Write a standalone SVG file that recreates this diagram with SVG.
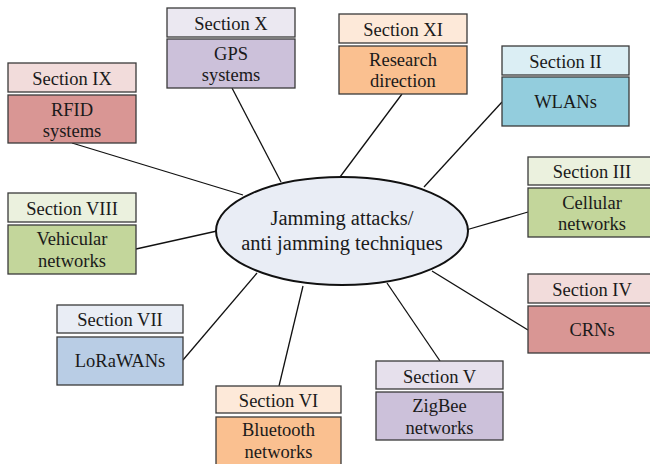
<svg xmlns="http://www.w3.org/2000/svg" width="650" height="464" viewBox="0 0 650 464" font-family="'Liberation Serif', 'Times New Roman', 'DejaVu Serif', serif">
<style>
text{font-family:'Liberation Serif','Times New Roman','DejaVu Serif',serif;font-size:18.5px;fill:#1a1a1a;text-anchor:middle}
.b{stroke:#3a3a3a;stroke-width:1.3}
.c line{stroke:#111;stroke-width:1.3}
.big{font-size:20.5px}
</style>
<rect width="650" height="464" fill="#fff"/>
<g class="c" id="connectors">
<line x1="72" y1="143" x2="243" y2="195"/>
<line x1="232" y1="88" x2="281" y2="182"/>
<line x1="402" y1="94" x2="340" y2="177"/>
<line x1="502" y1="102" x2="424" y2="187"/>
<line x1="466" y1="230" x2="528" y2="212"/>
<line x1="432" y1="271" x2="528" y2="330"/>
<line x1="387" y1="283" x2="440" y2="361"/>
<line x1="303" y1="286" x2="279" y2="386"/>
<line x1="257" y1="273" x2="183" y2="360"/>
<line x1="217" y1="231" x2="136" y2="249"/>
</g>
<g id="center">
<ellipse cx="342" cy="231" rx="126" ry="54" fill="#E9EDF5" stroke="#111" stroke-width="2"/>
<text class="big" x="342" y="225">Jamming attacks/</text>
<text class="big" x="342" y="250">anti jamming techniques</text>
</g>
<g id="sec-x">
<rect class="b" x="167" y="8" width="128" height="29" fill="#EBE8F1"/>
<text x="231" y="30">Section X</text>
<rect class="b" x="167" y="39" width="128" height="49" fill="#CCC1DA"/>
<text x="231" y="60">GPS</text>
<text x="231" y="81">systems</text>
</g>
<g id="sec-ix">
<rect class="b" x="8" y="63" width="128" height="29" fill="#F2DCDB"/>
<text x="72" y="85">Section IX</text>
<rect class="b" x="8" y="95" width="128" height="48" fill="#D99694"/>
<text x="72" y="116">RFID</text>
<text x="72" y="137">systems</text>
</g>
<g id="sec-xi">
<rect class="b" x="339" y="14" width="128" height="29" fill="#FDE9D9"/>
<text x="403" y="36">Section XI</text>
<rect class="b" x="339" y="46" width="128" height="48" fill="#FAC090"/>
<text x="403" y="66">Research</text>
<text x="403" y="87">direction</text>
</g>
<g id="sec-ii">
<rect class="b" x="502" y="46" width="127" height="29" fill="#DBEEF4"/>
<text x="565.5" y="68">Section II</text>
<rect class="b" x="502" y="77" width="127" height="49" fill="#93CDDD"/>
<text x="565.5" y="108">WLANs</text>
</g>
<g id="sec-iii">
<rect class="b" x="528" y="157" width="128" height="28" fill="#EBF1DE"/>
<text x="592" y="178">Section III</text>
<rect class="b" x="528" y="188" width="128" height="49" fill="#C3D69B"/>
<text x="592" y="209">Cellular</text>
<text x="592" y="230">networks</text>
</g>
<g id="sec-iv">
<rect class="b" x="528" y="274" width="128" height="29" fill="#F2DCDB"/>
<text x="592" y="296">Section IV</text>
<rect class="b" x="528" y="306" width="128" height="47" fill="#D99694"/>
<text x="592" y="336">CRNs</text>
</g>
<g id="sec-viii">
<rect class="b" x="8" y="193" width="128" height="29" fill="#EBF1DE"/>
<text x="72" y="215">Section VIII</text>
<rect class="b" x="8" y="225" width="128" height="49" fill="#C3D69B"/>
<text x="72" y="245">Vehicular</text>
<text x="72" y="267">networks</text>
</g>
<g id="sec-vii">
<rect class="b" x="57" y="305" width="126" height="28" fill="#E9EDF5"/>
<text x="120" y="326">Section VII</text>
<rect class="b" x="57" y="337" width="126" height="48" fill="#B9CDE5"/>
<text x="120" y="367">LoRaWANs</text>
</g>
<g id="sec-vi">
<rect class="b" x="216" y="386" width="125" height="27" fill="#FDE9D9"/>
<text x="278.5" y="407">Section VI</text>
<rect class="b" x="216" y="417" width="125" height="52" fill="#FAC090"/>
<text x="278.5" y="436">Bluetooth</text>
<text x="278.5" y="458">networks</text>
</g>
<g id="sec-v">
<rect class="b" x="376" y="361" width="127" height="28" fill="#E6E0EC"/>
<text x="439.5" y="383">Section V</text>
<rect class="b" x="376" y="392" width="127" height="48" fill="#CCC1DA"/>
<text x="439.5" y="412">ZigBee</text>
<text x="439.5" y="434">networks</text>
</g>
</svg>
